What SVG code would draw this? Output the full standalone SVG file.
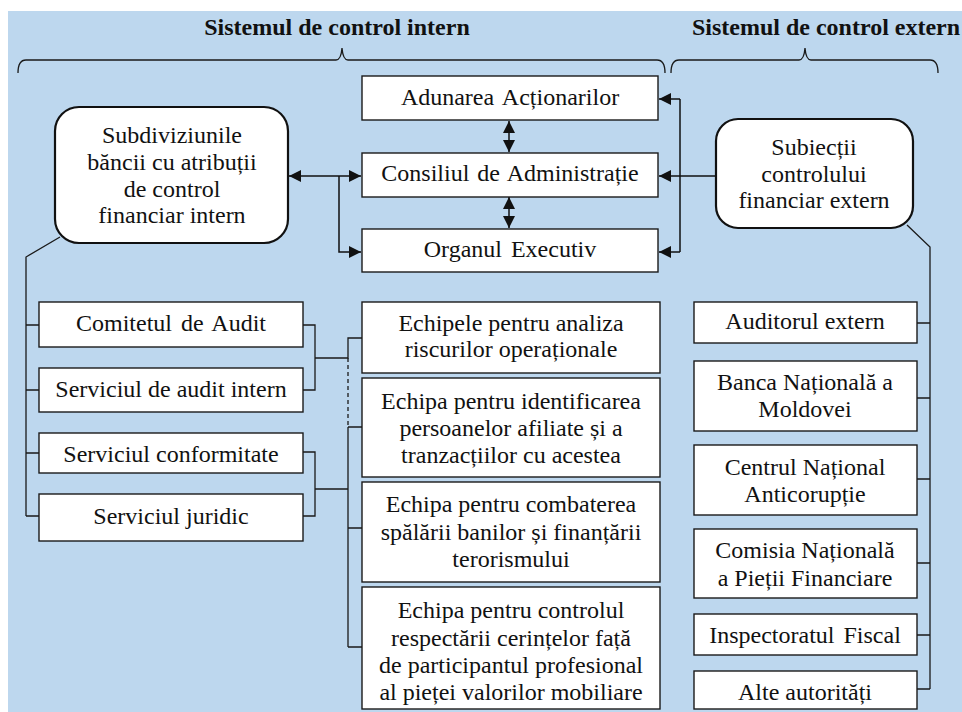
<svg xmlns="http://www.w3.org/2000/svg" width="962" height="712" viewBox="0 0 962 712" font-family="'Liberation Serif', 'DejaVu Serif', serif">
  <style>
    .bg { fill: #BDD7EE; }
    .box { fill: #FFFFFF; stroke: #1A1A1A; stroke-width: 1.4; }
    .rbox { fill: #FFFFFF; stroke: #111111; stroke-width: 2.2; }
    text { font-family: 'Liberation Serif', 'DejaVu Serif', serif; }
    .t { font-size: 24px; fill: #111111; text-anchor: middle; }
    .h { font-size: 24px; font-weight: bold; fill: #111111; text-anchor: middle; }
    .ln { fill: none; stroke: #1A1A1A; stroke-width: 1.3; }
    .dash { fill: none; stroke: #1A1A1A; stroke-width: 1.3; stroke-dasharray: 4 3; }
    .arr { fill: none; stroke: #111111; stroke-width: 1.5; }
  </style>
  <defs>
    <marker id="ah" viewBox="0 0 10 10" refX="10" refY="5" markerWidth="12" markerHeight="12" markerUnits="userSpaceOnUse" orient="auto-start-reverse">
      <path d="M0,0 L10,5 L0,10 Z" fill="#111111"/>
    </marker>
  </defs>

  <!-- background panel -->
  <rect class="bg" x="8" y="11" width="954" height="701"/>

  <!-- headings and braces -->
  <g id="heading-intern">
    <text class="h" x="337" y="35">Sistemul de control intern</text>
    <path class="ln" d="M18,73 Q18,60 26,60 L336,60 Q341,60 342,48 Q343,60 348,60 L657,60 Q665,60 665,73"/>
  </g>
  <g id="heading-extern">
    <text class="h" x="826" y="35">Sistemul de control extern</text>
    <path class="ln" d="M671,73 Q671,60 679,60 L799,60 Q804,60 805,48 Q806,60 811,60 L930,60 Q938,60 938,73"/>
  </g>

  <!-- connectors -->
  <g id="connectors">
    <!-- left rounded box <-> Consiliul, branch to Organul -->
    <path class="arr" d="M289,176 L361,176" marker-start="url(#ah)" marker-end="url(#ah)"/>
    <path class="arr" d="M339,176 L339,252 L361,252" marker-end="url(#ah)"/>
    <!-- vertical double arrows between governing bodies -->
    <path class="arr" d="M509,121 L509,152" marker-start="url(#ah)" marker-end="url(#ah)"/>
    <path class="arr" d="M509,197 L509,228" marker-start="url(#ah)" marker-end="url(#ah)"/>
    <!-- right rounded box -> governing bodies -->
    <path class="arr" d="M716,176 L659,176" marker-end="url(#ah)"/>
    <path class="arr" d="M680,99 L680,252" />
    <path class="arr" d="M680,99 L659,99" marker-end="url(#ah)"/>
    <path class="arr" d="M680,252 L659,252" marker-end="url(#ah)"/>

    <!-- left spine -->
    <path class="ln" d="M60,237 L26,257 L26,516"/>
    <path class="ln" d="M26,325 L39,325 M26,390 L39,390 M26,453 L39,453 M26,516 L39,516"/>

    <!-- brackets joining left boxes -->
    <path class="ln" d="M303,325 L315,325 L315,390 L303,390 M315,358 L348,358 L348,338 L362,338"/>
    <path class="ln" d="M303,452 L315,452 L315,516 L303,516 M315,489 L348,489"/>
    <path class="dash" d="M348,358 L348,427"/>
    <path class="ln" d="M348,427 L348,647 M348,427 L362,427 M348,528 L362,528 M348,647 L362,647"/>

    <!-- right spine -->
    <path class="ln" d="M907,225 L930,247 L930,689"/>
    <path class="ln" d="M917,323 L930,323 M917,398 L930,398 M917,479 L930,479 M917,563 L930,563 M917,635 L930,635 M917,689 L930,689"/>
  </g>

  <!-- governing bodies -->
  <g id="adunarea">
    <rect class="box" x="362" y="76" width="296" height="44"/>
    <text class="t" x="510" y="105" word-spacing="3">Adunarea Acționarilor</text>
  </g>
  <g id="consiliul">
    <rect class="box" x="362" y="153" width="296" height="44"/>
    <text class="t" x="510" y="181" word-spacing="2">Consiliul de Administrație</text>
  </g>
  <g id="organul">
    <rect class="box" x="362" y="229" width="296" height="43"/>
    <text class="t" x="510" y="257" word-spacing="3">Organul Executiv</text>
  </g>

  <!-- rounded summary boxes -->
  <g id="subdiviziunile">
    <rect class="rbox" x="55" y="107" width="233" height="136" rx="24" ry="24"/>
    <text class="t" x="172" y="143">Subdiviziunile</text>
    <text class="t" x="172" y="170">băncii cu atribuții</text>
    <text class="t" x="172" y="197">de control</text>
    <text class="t" x="172" y="223">financiar intern</text>
  </g>
  <g id="subiectii">
    <rect class="rbox" x="716" y="119" width="197" height="109" rx="22" ry="22"/>
    <text class="t" x="814" y="155">Subiecții</text>
    <text class="t" x="814" y="182">controlului</text>
    <text class="t" x="814" y="208">financiar extern</text>
  </g>

  <!-- internal units -->
  <g id="comitetul">
    <rect class="box" x="39" y="302" width="264" height="45"/>
    <text class="t" x="171" y="331" word-spacing="3">Comitetul de Audit</text>
  </g>
  <g id="audit-intern">
    <rect class="box" x="39" y="368" width="264" height="44"/>
    <text class="t" x="171" y="397">Serviciul de audit intern</text>
  </g>
  <g id="conformitate">
    <rect class="box" x="39" y="433" width="264" height="40"/>
    <text class="t" x="171" y="462">Serviciul conformitate</text>
  </g>
  <g id="juridic">
    <rect class="box" x="39" y="494" width="264" height="47"/>
    <text class="t" x="171" y="524">Serviciul juridic</text>
  </g>

  <!-- specialised teams -->
  <g id="echipa-riscuri">
    <rect class="box" x="362" y="302" width="298" height="71"/>
    <text class="t" x="511" y="331">Echipele pentru analiza</text>
    <text class="t" x="511" y="357">riscurilor operaționale</text>
  </g>
  <g id="echipa-afiliate">
    <rect class="box" x="362" y="378" width="298" height="99"/>
    <text class="t" x="511" y="409">Echipa pentru identificarea</text>
    <text class="t" x="511" y="436">persoanelor afiliate și a</text>
    <text class="t" x="511" y="463">tranzacțiilor cu acestea</text>
  </g>
  <g id="echipa-spalare">
    <rect class="box" x="362" y="482" width="298" height="100"/>
    <text class="t" x="511" y="512">Echipa pentru combaterea</text>
    <text class="t" x="511" y="540">spălării banilor și finanțării</text>
    <text class="t" x="511" y="567">terorismului</text>
  </g>
  <g id="echipa-valori">
    <rect class="box" x="362" y="587" width="298" height="122"/>
    <text class="t" x="511" y="618">Echipa pentru controlul</text>
    <text class="t" x="511" y="646">respectării cerințelor față</text>
    <text class="t" x="511" y="673">de participantul profesional</text>
    <text class="t" x="511" y="700">al pieței valorilor mobiliare</text>
  </g>

  <!-- external bodies -->
  <g id="auditorul">
    <rect class="box" x="694" y="302" width="223" height="41"/>
    <text class="t" x="805" y="329">Auditorul extern</text>
  </g>
  <g id="bnm">
    <rect class="box" x="694" y="361" width="223" height="70"/>
    <text class="t" x="805" y="390">Banca Națională a</text>
    <text class="t" x="805" y="417">Moldovei</text>
  </g>
  <g id="cna">
    <rect class="box" x="694" y="445" width="223" height="70"/>
    <text class="t" x="805" y="475">Centrul Național</text>
    <text class="t" x="805" y="502">Anticorupție</text>
  </g>
  <g id="cnpf">
    <rect class="box" x="694" y="529" width="223" height="69"/>
    <text class="t" x="805" y="558">Comisia Națională</text>
    <text class="t" x="805" y="586">a Pieții Financiare</text>
  </g>
  <g id="fiscal">
    <rect class="box" x="694" y="614" width="223" height="41"/>
    <text class="t" x="805" y="643" word-spacing="3">Inspectoratul Fiscal</text>
  </g>
  <g id="alte">
    <rect class="box" x="694" y="671" width="223" height="38"/>
    <text class="t" x="805" y="700">Alte autorități</text>
  </g>
</svg>
